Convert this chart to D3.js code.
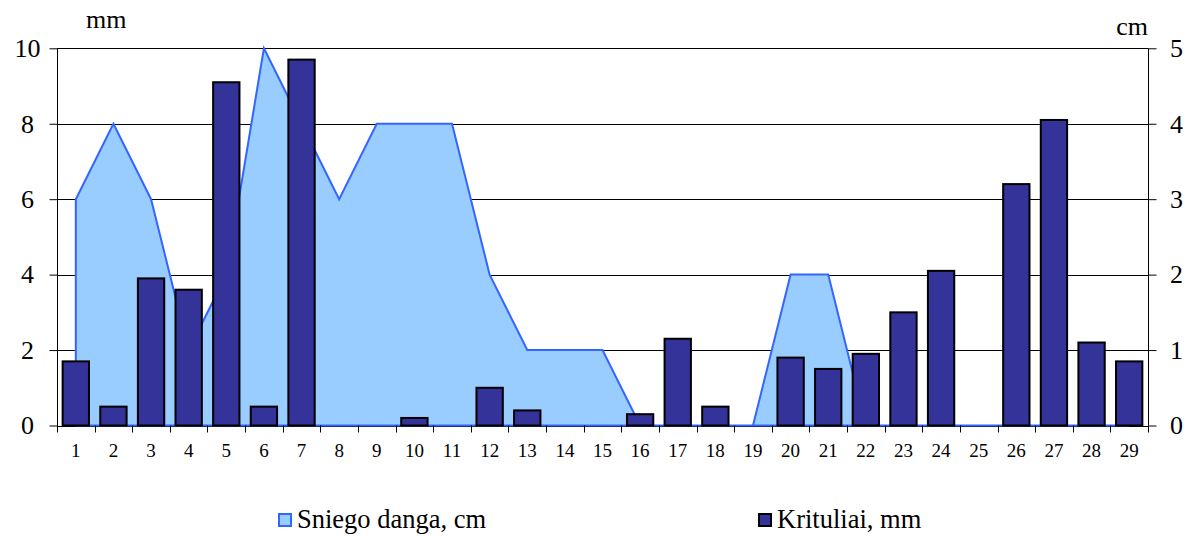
<!DOCTYPE html>
<html>
<head>
<meta charset="utf-8">
<script src="https://cdn.jsdelivr.net/npm/d3@7"></script>
<style>
  html, body { margin: 0; padding: 0; background: #fff; }
  svg { display: block; }
  svg text { font-family: "Liberation Serif", "Times New Roman", Tinos, serif !important; }
</style>
</head>
<body>
<svg id="chart" width="1198" height="536" font-family="Liberation Serif"></svg>
<script>
// ---- data ----
const days = ["1","2","3","4","5","6","7","8","9","10","11","12","13","14","15","16","17","18","19","20","21","22","23","24","25","26","27","28","29"];
const precipMm = [1.7,0.5,3.9,3.6,9.1,0.5,9.7,0,0,0.2,0,1.0,0.4,0,0,0.3,2.3,0.5,0,1.8,1.5,1.9,3.0,4.1,0,6.4,8.1,2.2,1.7];
const snowCm  = [3,4,3,1,2,5,4,3,4,4,4,2,1,1,1,0,0,0,0,2,2,0,0,0,0,0,0,0,0];
const leftTicks = [0,2,4,6,8,10];
const rightTicks = [0,1,2,3,4,5];
const seriesNames = ["Sniego danga, cm", "Krituliai, mm"];

const FONT = "Liberation Serif";

// ---- layout ----
const svg = d3.select("#chart");
const L = 57, R = 1148, T = 48.3, B = 425.5;

const x = d3.scaleBand().domain(days).range([L, R]).paddingInner(0.3).paddingOuter(0.15);
const xc = d => x(d) + x.bandwidth() / 2;
const yL = d3.scaleLinear().domain([0, 10]).range([B, T]);
const yR = d3.scaleLinear().domain([0, 5]).range([B, T]);

// gridlines
svg.append("g").selectAll("line").data(leftTicks.filter(t => t > 0)).join("line")
  .attr("x1", L).attr("x2", R)
  .attr("y1", d => Math.round(yL(d)) + 0.5).attr("y2", d => Math.round(yL(d)) + 0.5)
  .attr("stroke", "#000").attr("stroke-width", 1);

// x-axis baseline
svg.append("line").attr("x1", L).attr("x2", R)
  .attr("y1", Math.round(B) + 0.5).attr("y2", Math.round(B) + 0.5)
  .attr("stroke", "#000").attr("stroke-width", 1);

// snow area
const snowData = days.map((d, i) => ({d, v: snowCm[i]}));
const poly = [[xc(days[0]), yR(0)]]
  .concat(snowData.map(p => [xc(p.d), yR(p.v)]))
  .concat([[xc(days[days.length - 1]), yR(0)]]);
svg.append("path")
  .attr("d", d3.line()(poly) + "Z")
  .attr("fill", "#99CCFF")
  .attr("stroke", "#3366FF")
  .attr("stroke-width", 2)
  .attr("stroke-linejoin", "miter");

// bars
svg.append("g").selectAll("rect").data(days.map((d, i) => ({d, v: precipMm[i]})).filter(p => p.v > 0)).join("rect")
  .attr("x", p => x(p.d))
  .attr("width", x.bandwidth())
  .attr("y", p => yL(p.v))
  .attr("height", p => yL(0) - yL(p.v))
  .attr("fill", "#333399")
  .attr("stroke", "#000")
  .attr("stroke-width", 2);

// left axis
const gl = svg.append("g").attr("transform", `translate(${L + 0.5},0)`)
  .call(d3.axisLeft(yL).tickValues(leftTicks).tickSize(8).tickPadding(0).tickFormat(d3.format("d")));
gl.attr("font-family", FONT);
gl.select(".domain").attr("stroke", "#000").attr("d", `M0,${T}V${B + 7}`);
gl.selectAll(".tick line").attr("stroke", "#000");
gl.selectAll(".tick text")
  .attr("x", 27.5 - (L + 0.5)).attr("text-anchor", "middle")
  .attr("fill", "#000")
  .style("font-family", FONT).style("font-size", "26px");

// right axis
const gr = svg.append("g").attr("transform", `translate(${R + 0.5},0)`)
  .call(d3.axisRight(yR).tickValues(rightTicks).tickSize(8).tickPadding(0).tickFormat(d3.format("d")));
gr.attr("font-family", FONT);
gr.select(".domain").attr("stroke", "#000").attr("d", `M0,${T}V${B}`);
gr.selectAll(".tick line").attr("stroke", "#000");
gr.selectAll(".tick text")
  .attr("x", 1176.5 - (R + 0.5)).attr("text-anchor", "middle")
  .attr("fill", "#000")
  .style("font-family", FONT).style("font-size", "26px");

// x axis ticks at category boundaries
const bounds = days.map(d => x(d) - x.step() * x.paddingInner() / 2).concat([R]);
svg.append("g").selectAll("line").data(bounds.slice(1)).join("line")
  .attr("x1", d => Math.round(d) + 0.5).attr("x2", d => Math.round(d) + 0.5)
  .attr("y1", B).attr("y2", B + 7)
  .attr("stroke", "#000").attr("stroke-width", 1);

// x labels
svg.append("g").selectAll("text").data(days).join("text")
  .attr("x", d => xc(d)).attr("y", 457)
  .attr("text-anchor", "middle").attr("fill", "#000")
  .style("font-family", FONT).style("font-size", "19px")
  .text(d => d);

// unit labels
svg.append("text").attr("x", 86).attr("y", 28).attr("fill", "#000")
  .style("font-family", FONT).style("font-size", "26px").text("mm");
svg.append("text").attr("x", 1148).attr("y", 35).attr("text-anchor", "end").attr("fill", "#000")
  .style("font-family", FONT).style("font-size", "26px").text("cm");

// legend
const legend = [
  {name: seriesNames[0], fill: "#99CCFF", stroke: "#3366FF", sx: 278, tx: 297},
  {name: seriesNames[1], fill: "#333399", stroke: "#000", sx: 758, tx: 777}
];
const lg = svg.append("g").selectAll("g").data(legend).join("g");
lg.append("rect").attr("x", d => d.sx + 1).attr("y", 514).attr("width", 12).attr("height", 12)
  .attr("fill", d => d.fill).attr("stroke", d => d.stroke).attr("stroke-width", 2);
lg.append("text").attr("x", d => d.tx).attr("y", 528).attr("fill", "#000")
  .style("font-family", FONT).style("font-size", "26.5px")
  .text(d => d.name);
</script>
</body>
</html>
